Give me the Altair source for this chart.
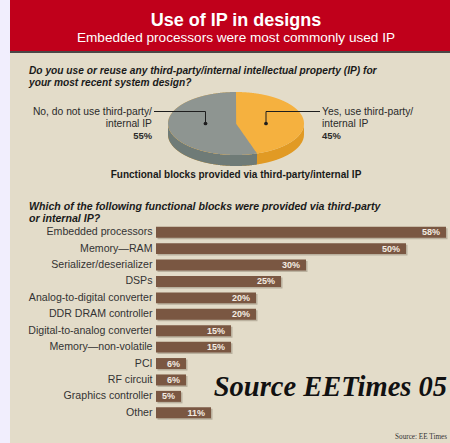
import altair as alt
import math

# ---------------- data ----------------
title_text = "Use of IP in designs"
subtitle_text = "Embedded processors were most commonly used IP"
question1 = ["Do you use or reuse any third-party/internal intellectual property (IP) for",
             "your most recent system design?"]
question2 = ["Which of the following functional blocks were provided via third-party",
             "or internal IP?"]
pie_caption = "Functional blocks provided via third-party/internal IP"

pie_labels = ["No, do not use third-party/\ninternal IP", "Yes, use third-party/\ninternal IP"]
pie_values = [55, 45]

categories = ["Embedded processors", "Memory\u2014RAM", "Serializer/deserializer", "DSPs",
              "Analog-to-digital converter", "DDR DRAM controller", "Digital-to-analog converter",
              "Memory\u2014non-volatile", "PCI", "RF circuit", "Graphics controller", "Other"]
values = [58, 50, 30, 25, 20, 20, 15, 15, 6, 6, 5, 11]

source_big = "Source EETimes 05"
source_small = "Source: EE Times"

# ---------------- styles ----------------
SANS = "Liberation Sans"
SERIF = "Liberation Serif"
RED = "#C0001B"
BEIGE = "#E3DCC9"
LAVENDER = "#F1EEFD"
BROWN = "#7A5742"
GRAY_TOP, GRAY_SIDE = "#8E9591", "#6F7B77"
ORANGE_TOP, ORANGE_SIDE = "#F5B13F", "#E19A24"

one = alt.Data(values=[{"a": 1}])


def box(x, x2, y, y2, color):
    return alt.Chart(one).mark_rect(color=color).encode(
        x=alt.value(x), x2=alt.value(x2), y=alt.value(y), y2=alt.value(y2))


def txt(s, x, y, size, color="#222222", align="left", weight="normal", style="normal",
        font=SANS, baseline="middle", line_height=None):
    kw = dict(align=align, baseline=baseline, fontSize=size, fontWeight=weight,
              fontStyle=style, font=font, color=color)
    if "\n" in s:
        kw["lineBreak"] = "\n"
        kw["lineHeight"] = line_height or size * 1.25
    return alt.Chart(one).mark_text(**kw).encode(
        x=alt.value(x), y=alt.value(y), text=alt.value(s))


def rule(x, x2, y, y2):
    return alt.Chart(one).mark_rule(color="#1E1E1E", strokeWidth=1).encode(
        x=alt.value(x), x2=alt.value(x2), y=alt.value(y), y2=alt.value(y2))


def dot(x, y):
    return alt.Chart(one).mark_point(filled=True, size=14, color="#1E1E1E", opacity=1).encode(
        x=alt.value(x), y=alt.value(y))


# ---------------- background / header ----------------
bg = box(10, 450, 0, 443, BEIGE)
header = box(10, 450, 0, 51, RED)
header_line = box(10, 450, 51, 53, "#4B4646")
t1 = txt(title_text, 236, 25.5, 18, color="white", align="center", weight="bold",
         baseline="alphabetic")
t2 = txt(subtitle_text, 236, 42.3, 13.6, color="white", align="center", baseline="alphabetic")

q1 = txt("\n".join(question1), 29, 74.0, 10.2, color="#1A1A1A", weight="bold", style="italic",
         baseline="alphabetic", line_height=11.8)
q2 = txt("\n".join(question2), 29, 209.5, 10.6, color="#1A1A1A", weight="bold", style="italic",
         baseline="alphabetic", line_height=12.3)

# ---------------- 3D pie (ellipse drawn from pie_values) ----------------
cx, cy, rx, ry, depth = 236, 123.5, 68, 31.5, 11
D = depth / ry
split = math.radians(90 + 360 * pie_values[0] / 100.0)   # "No" share, counter-clockwise from top
bx, by = math.cos(split), math.sin(split)

xs = alt.Scale(domain=[-1, 1], range=[cx - rx, cx + rx], nice=False, zero=False)
ys = alt.Scale(domain=[-1, 1], range=[cy + ry, cy - ry], nice=False, zero=False)

pie_base = alt.Chart(alt.sequence(-400, 401, 1, as_="k")).transform_calculate(
    u="datum.k / 400"
).transform_calculate(
    up="sqrt(max(0, 1 - datum.u * datum.u))",
    lo="-sqrt(max(0, 1 - datum.u * datum.u))",
).transform_calculate(
    side_bot=f"datum.lo - {D}",
    gside_bot=f"datum.u <= {bx} ? datum.lo - {D} : datum.lo",
    gtop=f"datum.u <= 0 ? datum.up : max(datum.lo, datum.u * {by / bx})",
)


def pie_area(top, bot, color):
    return pie_base.mark_area(color=color, orient="vertical", opacity=1).encode(
        x=alt.X("u:Q", scale=xs, axis=None),
        y=alt.Y(f"{top}:Q", scale=ys, axis=None),
        y2=f"{bot}:Q",
    )


pie = alt.layer(
    pie_area("lo", "side_bot", ORANGE_SIDE),
    pie_area("lo", "gside_bot", GRAY_SIDE),
    pie_area("up", "lo", ORANGE_TOP),
    pie_area("gtop", "lo", GRAY_TOP),
)

no_lab = txt(pie_labels[0], 152, 111.8, 10.3, color="#2A2A2A", align="right", line_height=11.9)
no_pct = txt(f"{pie_values[0]}%", 152, 135.8, 9.4, color="#2A2A2A", align="right", weight="bold")
yes_lab = txt(pie_labels[1], 322, 111.8, 10.3, color="#2A2A2A", align="left", line_height=11.9)
yes_pct = txt(f"{pie_values[1]}%", 322, 135.8, 9.4, color="#2A2A2A", align="left", weight="bold")
leaders = [rule(154, 205.5, 111.5, 111.5), rule(205.5, 205.5, 111.5, 123.5),
           rule(266, 320, 111.5, 111.5), rule(266, 266, 111.5, 123.5),
           dot(205.5, 123.5), dot(266, 123.5)]
cap = txt(pie_caption, 236, 175, 10, color="#1A1A1A", align="center", weight="bold")

# ---------------- bar chart ----------------
bar_df = alt.Data(values=[{"cat": c, "val": v, "lab": f"{v}%"} for c, v in zip(categories, values)])
bx_scale = alt.Scale(domain=[0, 60], range=[156, 456], nice=False, zero=True)
by_scale = alt.Scale(domain=categories, range=[224, 421], paddingInner=0.33, paddingOuter=0.165)
Xb = alt.X("val:Q", scale=bx_scale, axis=None)
Yb = alt.Y("cat:N", scale=by_scale, axis=None, sort=categories)
barbase = alt.Chart(bar_df)
shadow = barbase.mark_bar(color="#9E9482", opacity=0.6, xOffset=1.5, yOffset=1.5,
                          x2Offset=1.5, y2Offset=1.5).encode(x=Xb, y=Yb)
bars = barbase.mark_bar(color=BROWN).encode(x=Xb, y=Yb)
vlabels = barbase.mark_text(align="right", baseline="middle", dx=-6, fontSize=9,
                            fontWeight="bold", font=SANS, color="#F4ECE2").encode(
    x=Xb, y=Yb, text="lab:N")
clabels = barbase.mark_text(align="right", baseline="middle", fontSize=10.6, font=SANS,
                            color="#333333").encode(
    x=alt.value(152.5), y=Yb, text="cat:N")
barlayer = alt.layer(shadow, bars, vlabels, clabels)

src1 = txt(source_big, 447, 396, 28.5, color="#111111", align="right", weight="bold",
           style="italic", font=SERIF, baseline="alphabetic")
src2 = txt(source_small, 447, 437, 7.2, color="#333333", align="right", font=SERIF)

chart = alt.layer(
    bg, header, header_line, t1, t2, q1,
    pie, no_lab, no_pct, yes_lab, yes_pct, *leaders, cap,
    q2, barlayer, src1, src2,
).resolve_scale(x="independent", y="independent").properties(
    width=450, height=443, padding=0, autosize="none", background=LAVENDER
).configure_view(stroke=None)

chart.save("out.html", embed_options={"renderer": "svg", "actions": False})
